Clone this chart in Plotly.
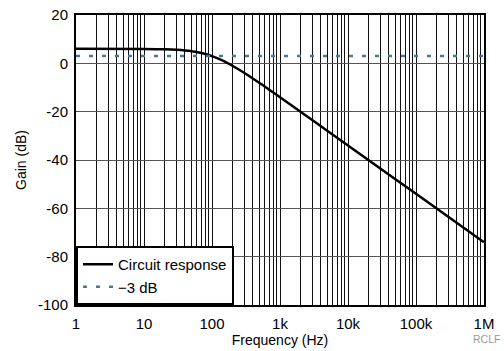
import plotly.graph_objects as go

# Data
freq_hz = [1, 10, 20, 30, 50, 70, 100, 150, 200, 300, 500, 700, 1000, 2000, 5000, 10000, 100000, 1000000]
gain_db = [6.0, 5.96, 5.83, 5.62, 5.03, 4.25, 3.0, 0.9, -1.0, -4.0, -8.15, -11.0, -14.0, -20.0, -28.0, -34.0, -54.0, -74.0]
minus3_freq = [1, 1000000]
minus3_gain = [3.0, 3.0]

x_major_vals = [1, 10, 100, 1000, 10000, 100000, 1000000]
x_major_text = ["1", "10", "100", "1k", "10k", "100k", "1M"]
y_tick_vals = [20, 0, -20, -40, -60, -80, -100]
y_tick_text = ["20", "0", "-20", "-40", "-60", "-80", "-100"]

# grid positions: every 1..9 in each decade
x_tickvals = []
x_ticktext = []
for d in range(6):
    for m in range(1, 10):
        v = m * 10 ** d
        x_tickvals.append(v)
        x_ticktext.append(x_major_text[x_major_vals.index(v)] if v in x_major_vals else "")
x_tickvals.append(1000000)
x_ticktext.append("1M")

font_family = "Liberation Sans, Arial, sans-serif"

fig = go.Figure()
fig.add_trace(go.Scatter(
    x=freq_hz, y=gain_db, mode="lines", name="Circuit response",
    line=dict(color="black", width=2.5), line_shape="spline"
))
fig.add_trace(go.Scatter(
    x=minus3_freq, y=minus3_gain, mode="lines", name="\u22123 dB",
    line=dict(color="#4a7896", width=2.5, dash="4px,9px")
))

fig.update_layout(
    width=504, height=351,
    margin=dict(l=76, r=20, t=15, b=46, autoexpand=False),
    paper_bgcolor="white", plot_bgcolor="white",
    font=dict(family=font_family, size=15, color="black"),
    showlegend=True,
    legend=dict(
        x=0, y=0, xanchor="left", yanchor="bottom",
        bgcolor="white", bordercolor="black", borderwidth=2,
        font=dict(size=15), tracegroupgap=0, itemwidth=30,
    ),
    annotations=[dict(
        text="RCLF", xref="paper", yref="paper", x=(502 - 76) / 408, y=(351 - 339 - 46) / 290,
        xanchor="right", yanchor="middle", showarrow=False,
        font=dict(size=10.5, color="#999999")
    )],
)

fig.update_xaxes(
    type="log", range=[0, 6], automargin=False,
    tickvals=x_tickvals, ticktext=x_ticktext,
    showgrid=True, gridcolor="#111111", gridwidth=1,
    showline=True, linecolor="black", linewidth=2, mirror=True,
    ticks="outside", ticklen=4, tickcolor="rgba(0,0,0,0)",
    title=dict(text="Frequency (Hz)", font=dict(size=14), standoff=1),
    zeroline=False,
)
fig.update_yaxes(
    range=[-100, 20], automargin=False,
    tickvals=y_tick_vals, ticktext=y_tick_text,
    showgrid=True, gridcolor="#555555", gridwidth=1,
    showline=True, linecolor="black", linewidth=2, mirror=True,
    ticks="outside", ticklen=3, tickcolor="rgba(0,0,0,0)",
    title=dict(text="Gain (dB)", font=dict(size=14), standoff=8),
    zeroline=False,
)

fig.write_html(
    "out.html",
    config={"displayModeBar": False},
    post_script="document.body.style.margin='0';document.body.style.padding='0';document.body.style.overflow='hidden';",
)
